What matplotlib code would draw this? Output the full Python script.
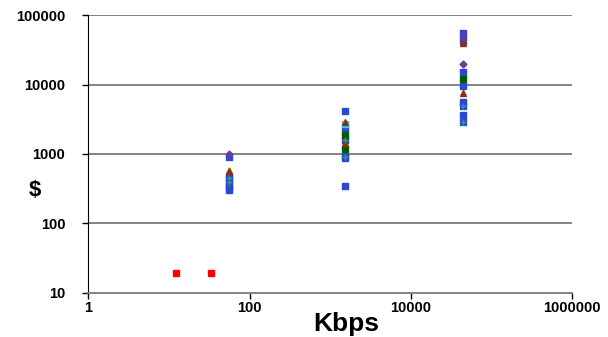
import matplotlib
matplotlib.use('Agg')
import matplotlib.pyplot as plt
from matplotlib.ticker import FixedLocator, NullLocator

plt.rcParams['font.family'] = ['Liberation Sans', 'DejaVu Sans']

# line speeds in Kbps
modem_lo = 12.2
modem_hi = 33.6
k56 = 56
t1 = 1544
t3 = 44736

# price points ($), grouped by marker style
red_x = [modem_lo, modem_hi]
red_y = [19.5, 19.5]

blue_x = [k56] * 7 + [t1] * 6 + [t3] * 8
blue_y = [900, 480, 430, 390, 350, 320, 300,
          4200, 2350, 1590, 935, 867, 346,
          55000, 43000, 15400, 9650, 5680, 4900, 3650, 2920]

yellow_x = [k56]
yellow_y = [590]

brown_x = [k56, t1, t1, t3, t3]
brown_y = [560, 2920, 1455, 40300, 7500]

green_x = [t1, t1, t3]
green_y = [1880, 1180, 11950]

cyan_x = [t1]
cyan_y = [2680]

purple_x = [k56, t3, t3]
purple_y = [1000, 48200, 20000]

plus_x = [k56, k56, t1, t1, t3, t3]
plus_y = [450, 400, 1590, 900, 4920, 2920]

yticks = [10, 100, 1000, 10000, 100000]
xticks = [1, 100, 10000, 1000000]

fig = plt.figure(figsize=(6.08, 3.37), dpi=100)
ax = fig.add_axes([0.1452, 0.1315, 0.7956, 0.8231])

ax.set_xscale('log')
ax.set_yscale('log')
ax.set_xlim(1, 1000000)
ax.set_ylim(10, 100000)

# horizontal gridlines
for v in yticks[1:]:
    ax.axhline(v, color='#7a7a7a', lw=1.3, zorder=1)

ms = 5
ax.plot(blue_x, blue_y, 's', color='#2a48d0', ms=ms, zorder=3)
ax.plot(red_x, red_y, 's', color='#ff0000', ms=ms, zorder=3)
ax.plot(green_x, green_y, 's', color='#005a00', ms=ms, zorder=4)
ax.plot(cyan_x, cyan_y, 's', color='#33ccff', ms=4, zorder=4)
ax.plot(yellow_x, yellow_y, '^', color='#e0d000', ms=ms, zorder=4)
ax.plot(brown_x, brown_y, '^', color='#8b3010', ms=ms, zorder=4)
ax.plot(purple_x, purple_y, 'D', color='#6a3d9a', ms=3.5, zorder=4)
ax.plot(plus_x, plus_y, '+', color='#2e9e6e', ms=5, mew=1, zorder=5)

ax.spines['top'].set_visible(False)
ax.spines['right'].set_visible(False)
ax.spines['left'].set_color('black')
ax.spines['bottom'].set_color('#7a7a7a')
ax.spines['bottom'].set_linewidth(1.3)

ax.xaxis.set_major_locator(FixedLocator(xticks))
ax.xaxis.set_minor_locator(NullLocator())
ax.yaxis.set_major_locator(FixedLocator(yticks))
ax.yaxis.set_minor_locator(NullLocator())
ax.set_xticklabels([str(v) for v in xticks], fontsize=10.5, fontweight='bold')
ax.set_yticklabels([str(v) for v in yticks], fontsize=10.5, fontweight='bold')
ax.tick_params(axis='y', length=4.5, width=1, pad=12, color='black')
ax.tick_params(axis='x', length=4, width=1, pad=2, color='black')

fig.text(0.058, 0.435, '$', fontsize=16, fontweight='bold', ha='center', va='center')
fig.text(0.569, 0.04, 'Kbps', fontsize=19, fontweight='bold', ha='center', va='center')

fig.savefig('out.png', dpi=100)
